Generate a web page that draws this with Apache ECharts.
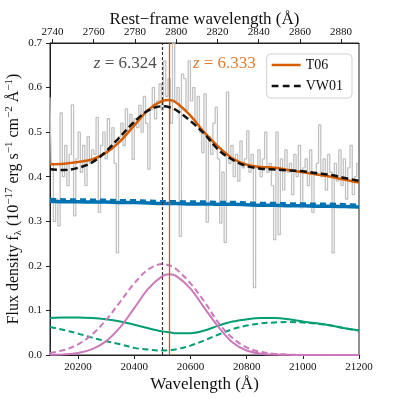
<!DOCTYPE html>
<html><head><meta charset="utf-8">
<script src="https://cdn.jsdelivr.net/npm/echarts@6.0.0/dist/echarts.min.js"></script>
<style>html,body{margin:0;padding:0;background:#fff}#c{width:399px;height:399px}</style>
</head><body><div id="c"></div>
<script>
// ---- data ----
const specWave = [20100,20108,20116,20124,20132,20140,20148,20156,20164,20172,
20180,20188,20196,20204,20212,20220,20228,20236,20244,20252,
20260,20268,20276,20284,20292,20300,20308,20316,20324,20332,
20340,20348,20356,20364,20372,20380,20388,20396,20404,20412,
20420,20428,20436,20444,20452,20460,20468,20476,20484,20492,
20500,20508,20516,20524,20532,20540,20548,20556,20564,20572,
20580,20588,20596,20604,20612,20620,20628,20636,20644,20652,
20660,20668,20676,20684,20692,20700,20708,20716,20724,20732,
20740,20748,20756,20764,20772,20780,20788,20796,20804,20812,
20820,20828,20836,20844,20852,20860,20868,20876,20884,20892,
20900,20908,20916,20924,20932,20940,20948,20956,20964,20972,
20980,20988,20996,21004,21012,21020,21028,21036,21044,21052,
21060,21068,21076,21084,21092,21100,21108,21116,21124,21132,
21140,21148,21156,21164,21172,21180,21188,21196];
const specFlux = [0.578,0.43,0.30,0.35,0.29,0.543,0.40,0.47,0.38,0.45,
0.561,0.312,0.44,0.50,0.41,0.47,0.38,0.49,0.43,0.46,
0.45,0.533,0.32,0.47,0.50,0.44,0.53,0.46,0.51,0.43,
0.229,0.49,0.52,0.47,0.552,0.50,0.54,0.439,0.53,0.51,
0.56,0.50,0.58,0.52,0.417,0.55,0.60,0.53,0.57,0.608,
0.55,0.66,0.58,0.62,0.52,0.70,0.57,0.60,0.266,0.63,
0.62,0.55,0.66,0.57,0.60,0.52,0.58,0.50,0.454,0.586,
0.298,0.49,0.45,0.52,0.556,0.44,0.296,0.41,0.252,0.59,
0.43,0.47,0.40,0.45,0.39,0.48,0.42,0.44,0.503,0.41,
0.45,0.151,0.42,0.46,0.40,0.44,0.50,0.41,0.43,0.38,
0.259,0.50,0.27,0.44,0.37,0.46,0.41,0.43,0.36,0.45,
0.40,0.47,0.33,0.42,0.44,0.38,0.46,0.32,0.41,0.43,
0.516,0.40,0.44,0.37,0.45,0.41,0.229,0.43,0.39,0.46,
0.38,0.44,0.35,0.42,0.47,0.36,0.40,0.43];

const modelWave = [20100,20150,20200,20250,20300,20350,20400,20450,20500,20525,20550,20600,20650,20700,20750,20800,20850,20900,20950,21000,21050,21100,21150,21200];
const contT06  = [0.345,0.344,0.344,0.343,0.343,0.342,0.342,0.341,0.340,0.340,0.340,0.339,0.339,0.338,0.338,0.337,0.336,0.336,0.335,0.335,0.334,0.334,0.333,0.332];
const contVW01 = [0.349,0.348,0.348,0.347,0.347,0.346,0.346,0.345,0.344,0.344,0.344,0.343,0.343,0.342,0.342,0.341,0.340,0.340,0.339,0.339,0.338,0.338,0.337,0.336];
const mgT06  = [0.0003,0.0014,0.0046,0.0131,0.0312,0.0625,0.1052,0.1489,0.1771,0.181,0.1771,0.1489,0.1052,0.0625,0.028,0.010,0.003,0.001,0.0003,0.0001,0,0,0,0];
const mgVW01 = [0.0045,0.0111,0.0240,0.0461,0.0788,0.1195,0.1608,0.1922,0.204,0.201,0.1922,0.1608,0.1195,0.072,0.038,0.017,0.007,0.0025,0.0008,0.0002,0,0,0,0];
const feT06  = [0.083,0.084,0.084,0.083,0.080,0.075,0.068,0.060,0.053,0.051,0.049,0.049,0.055,0.066,0.075,0.080,0.083,0.083,0.080,0.075,0.071,0.066,0.060,0.055];
const feVW01 = [0.063,0.056,0.048,0.039,0.031,0.024,0.016,0.012,0.010,0.011,0.013,0.021,0.033,0.046,0.058,0.066,0.071,0.073,0.074,0.073,0.070,0.066,0.060,0.055];
const totT06  = [0.428,0.429,0.433,0.439,0.454,0.480,0.515,0.550,0.570,0.572,0.566,0.537,0.499,0.467,0.441,0.427,0.422,0.420,0.415,0.410,0.405,0.400,0.393,0.387];
const totVW01 = [0.417,0.415,0.420,0.432,0.457,0.490,0.523,0.549,0.558,0.556,0.549,0.525,0.496,0.460,0.438,0.424,0.418,0.416,0.414,0.412,0.408,0.404,0.397,0.391];

const xTicksObs = [20200,20400,20600,20800,21000,21200];
const restTicks = [2740,2760,2780,2800,2820,2840,2860,2880];
const zTop = 6.339;           // redshift used for the top rest-frame axis
const lineRest = 2798.75;     // Mg II rest wavelength
const zLabels = ['6.324','6.333'];
const zVals = [6.324, 6.333];

// ---- build ----
const pair = (xs, ys) => xs.map((x, i) => [x, ys[i]]);
const kTop = 1 + zTop;
const zObs = zVals.map(z => lineRest * (1 + z));
const FONT = 'Liberation Serif';
const C = {blue:'#0173B2', orange:'#D55E00', green:'#029E73', pink:'#CC78BC', gray:'#c2c2c2', black:'#111'};

const chart = echarts.init(document.getElementById('c'), null, {renderer:'canvas'});
const lineS = (name, data, color, width, type, z) => ({
  name, type:'line', data, xAxisIndex:0, yAxisIndex:0, showSymbol:false, symbol:'none',
  smooth:0.35, lineStyle:{color, width, type}, itemStyle:{color}, z, silent:true, animation:false
});

const option = {
  animation:false,
  textStyle:{fontFamily:FONT},
  grid:{left:50, right:40, top:43, bottom:44, show:true, borderColor:'#222', borderWidth:1,
        backgroundColor:'transparent', containLabel:false, outerBoundsMode:'none'},
  legend:{
    data:[
      {name:'T06', icon:'path://M0,0h30v2.6h-30z'},
      {name:'VW01', icon:'path://M0,0h7v2.6h-7z M11.5,0h7v2.6h-7z M23,0h7v2.6h-7z'}
    ],
    orient:'vertical', right:47, top:54,
    itemWidth:29, itemHeight:12, itemGap:7, symbolKeepAspect:true,
    padding:[4,9,5,5], borderColor:'#d0d0d0', borderWidth:1, borderRadius:4,
    backgroundColor:'rgba(255,255,255,0.85)',
    textStyle:{fontFamily:FONT, fontSize:14, color:'#111'}
  },
  xAxis:[
    {type:'value', position:'bottom', min:20100, max:21200,
     name:'Wavelength (Å)', nameLocation:'middle', nameGap:21, nameMoveOverlap:false,
     nameTextStyle:{fontFamily:FONT, fontSize:17, color:'#111'},
     axisLine:{show:true, lineStyle:{color:'#222', width:1}},
     axisTick:{show:true, length:4, customValues:xTicksObs, lineStyle:{color:'#222'}},
     axisLabel:{customValues:xTicksObs, margin:7, fontFamily:FONT, fontSize:11, color:'#111',
                formatter:v => String(Math.round(v))},
     splitLine:{show:false}},
    {type:'value', position:'top', min:20100, max:21200,
     name:'Rest\u2212frame wavelength (Å)', nameLocation:'middle', nameGap:15, nameMoveOverlap:false,
     nameTextStyle:{fontFamily:FONT, fontSize:17, color:'#111', verticalAlign:'bottom'},
     axisLine:{show:true, lineStyle:{color:'#222', width:1}},
     axisTick:{show:true, length:4, customValues:restTicks.map(r => r * kTop), lineStyle:{color:'#222'}},
     axisLabel:{customValues:restTicks.map(r => r * kTop), margin:5, fontFamily:FONT, fontSize:11, color:'#111',
                formatter:v => String(Math.round(v / kTop))},
     splitLine:{show:false}}
  ],
  yAxis:[
    {type:'value', min:0, max:0.7, interval:0.1,
     name:'Flux density f{s|λ} (10{p|\u221217} erg s{p|\u22121} cm{p|\u22122} Å{p|\u22121})',
     nameLocation:'middle', nameGap:26, nameRotate:90, nameMoveOverlap:false,
     nameTextStyle:{fontFamily:FONT, fontSize:16, color:'#111', lineHeight:20,
       rich:{p:{fontFamily:FONT, fontSize:11, verticalAlign:'top', lineHeight:20, color:'#111'},
             s:{fontFamily:FONT, fontSize:11, verticalAlign:'bottom', lineHeight:20, color:'#111'}}},
     axisLine:{show:true, lineStyle:{color:'#222', width:1}},
     axisTick:{show:true, length:4, lineStyle:{color:'#222'}},
     axisLabel:{margin:8, fontFamily:FONT, fontSize:11, color:'#111', formatter:v => v.toFixed(1)},
     splitLine:{show:false}}
  ],
  series:[
    {type:'line', data:pair(specWave, specFlux), step:'middle', showSymbol:false, symbol:'none',
     lineStyle:{color:C.gray, width:1.3}, z:1, silent:true},
    lineS('', pair(modelWave, feT06), C.green, 2, 'solid', 3),
    lineS('', pair(modelWave, feVW01), C.green, 2, [6,3.5], 3),
    lineS('', pair(modelWave, mgT06), C.pink, 2, 'solid', 3),
    lineS('', pair(modelWave, mgVW01), C.pink, 2, [6,3.5], 3),
    lineS('', pair(modelWave, contT06), C.blue, 3.5, 'solid', 4),
    lineS('', pair(modelWave, contVW01), C.blue, 3.5, [6,4], 4),
    lineS('T06', pair(modelWave, totT06), C.orange, 2.5, 'solid', 5),
    lineS('VW01', pair(modelWave, totVW01), C.black, 2.5, [7,3.5], 6),
    {type:'line', data:[], silent:true, z:7,
     markLine:{silent:true, symbol:['none','none'], animation:false, label:{show:false},
       data:[
         {xAxis:zObs[0], lineStyle:{color:'#333', width:1.2, type:[3,2]}},
         {xAxis:zObs[1], lineStyle:{color:C.orange, width:1.3, type:'solid'}}
       ]}},
    {type:'scatter', symbolSize:0, silent:true, z:8,
     data:[
       {value:[zObs[0], 0.655], label:{show:true, position:'left', distance:5, formatter:'{i|z} = ' + zLabels[0],
         fontFamily:FONT, fontSize:17, color:'#222', rich:{i:{fontFamily:FONT, fontStyle:'italic', fontSize:17, color:'#222'}}}},
       {value:[zObs[1], 0.655], label:{show:true, position:'right', distance:24, formatter:'{i|z} = ' + zLabels[1],
         fontFamily:FONT, fontSize:17, color:C.orange, rich:{i:{fontFamily:FONT, fontStyle:'italic', fontSize:17, color:C.orange}}}}
     ]}
  ]
};
chart.setOption(option);
</script></body></html>
